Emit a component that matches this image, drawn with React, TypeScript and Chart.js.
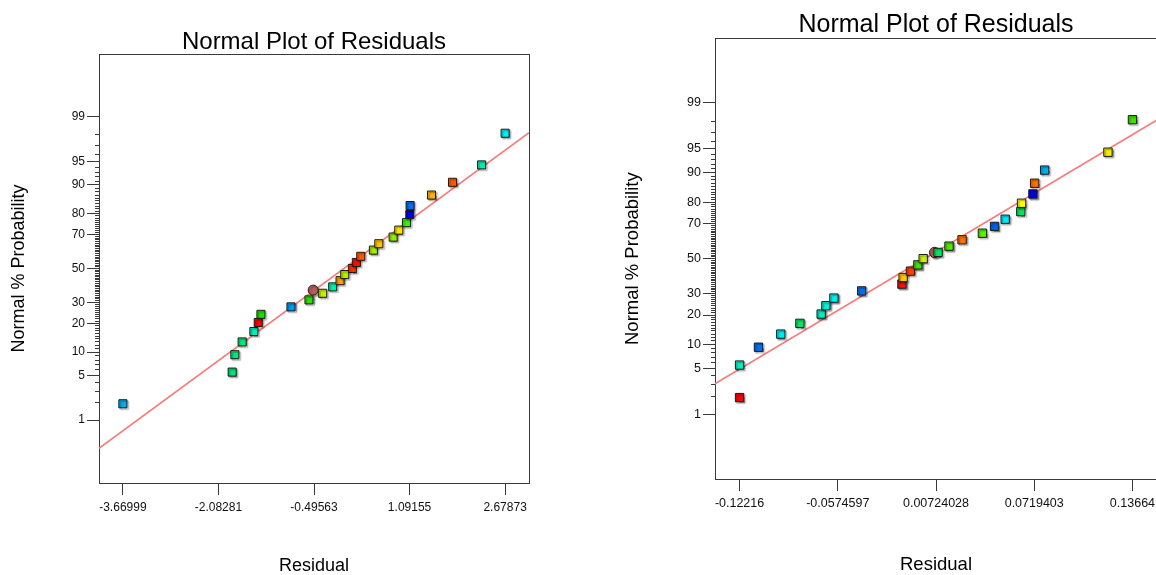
import { useEffect, useRef } from 'react';
import { Chart, registerables } from 'chart.js';

Chart.register(...registerables);

const MAIN_FONT = "'Liberation Sans', Arial, sans-serif";
const TICK_FONT = "'Liberation Sans Narrow', 'Liberation Sans', Arial, sans-serif";

// ---------- shared probability axis ----------
const yMajorPercents = [1, 5, 10, 20, 30, 50, 70, 80, 90, 95, 99];
const yMajorLabels = ['1', '5', '10', '20', '30', '50', '70', '80', '90', '95', '99'];
const yMinorPercents = Array.from({ length: 99 }, (_, i) => i + 1);
const zLimit = 3.2905; // 0.05% .. 99.95%

// ---------- left panel ----------
const leftTickValues = [-3.66999, -2.08281, -0.49563, 1.09155, 2.67873];
const leftTickLabels = ['-3.66999', '-2.08281', '-0.49563', '1.09155', '2.67873'];
const leftXMin = -4.0668;
const leftXMax = 3.0755;
const leftPercents = [1.9, 5.6, 9.3, 13.0, 16.7, 20.4, 24.1, 27.8, 31.5, 35.2, 38.9, 42.6, 46.3, 50.0, 53.7, 57.4, 61.1, 64.8, 68.5, 72.2, 75.9, 79.6, 83.3, 87.0, 90.7, 94.4, 98.1];
const leftResiduals = [-3.66999, -1.855, -1.81, -1.689, -1.494, -1.422, -1.377, -0.878, -0.579, -0.351, -0.185, -0.063, 0.015, 0.142, 0.208, 0.281, 0.491, 0.581, 0.819, 0.913, 1.04, 1.096, 1.10, 1.456, 1.805, 2.288, 2.67873];
const leftColors = ['#00AEEF', '#00E47A', '#00E880', '#00EC78', '#00F0BE', '#FF0000', '#18E000', '#0098F0', '#28E000', '#C8F000', '#00F0A8', '#FFA000', '#B4F000', '#F83000', '#FF1000', '#FF5A00', '#A0F000', '#FFC400', '#90F000', '#FFE400', '#40F000', '#0000F0', '#0070F0', '#FFB000', '#FF5A00', '#00F0B0', '#00EEF6'];
const leftCircleResidual = [-0.51];
const leftCirclePercent = [37.0];
const leftFitResidual = [-4.0668, 3.0755];
const leftFitPercent = [0.29, 98.14];

// ---------- right panel ----------
const rightTickValues = [-0.12216, -0.0574597, 0.00724028, 0.0719403, 0.13664];
const rightTickLabels = ['-0.12216', '-0.0574597', '0.00724028', '0.0719403', '0.13664'];
const rightXMin = -0.138335;
const rightXMax = 0.152815;
const rightPercents = [1.9, 5.6, 9.3, 13.0, 16.7, 20.4, 24.1, 27.8, 31.5, 35.2, 38.9, 42.6, 46.3, 50.0, 53.7, 57.4, 61.1, 64.8, 68.5, 72.2, 75.9, 79.6, 83.3, 87.0, 90.7, 94.4, 98.1];
const rightResiduals = [-0.12216, -0.12216, -0.1097, -0.095, -0.0824, -0.0684, -0.0653, -0.06, -0.0417, -0.0152, -0.0144, -0.0096, -0.0047, -0.0012, 0.0086, 0.0158, 0.0244, 0.0378, 0.0458, 0.0528, 0.0631, 0.0636, 0.0711, 0.0722, 0.0788, 0.1205, 0.13664];
const rightColors = ['#FF0000', '#00F0C0', '#0070F0', '#00E8F0', '#00E860', '#00F0C0', '#00F0D8', '#00F0F0', '#0070F0', '#FF1000', '#FFC800', '#FF4000', '#40E000', '#C8F000', '#00E860', '#50E800', '#FF7000', '#60F000', '#0060F0', '#00E8F8', '#00E860', '#FFFF00', '#0000E8', '#FF7000', '#00B0F0', '#F0F000', '#40E000'];
const rightCircleResidual = [0.0063];
const rightCirclePercent = [53.7];
const rightFitResidual = [-0.138335, 0.152815];
const rightFitPercent = [3.09, 98.08];

// inverse normal CDF (Acklam) for the probability axis
function probit(p: number): number {
  const a = [-3.969683028665376e1, 2.209460984245205e2, -2.759285104469687e2, 1.38357751867269e2, -3.066479806614716e1, 2.506628277459239];
  const b = [-5.447609879822406e1, 1.615858368580409e2, -1.556989798598866e2, 6.680131188771972e1, -1.328068155288572e1];
  const c = [-7.784894002430293e-3, -3.223964580411365e-1, -2.400758277161838, -2.549732539343734, 4.374664141464968, 2.938163982698783];
  const d = [7.784695709041462e-3, 3.224671290700398e-1, 2.445134137142996, 3.754408661907416];
  const pl = 0.02425;
  if (p < pl) {
    const q = Math.sqrt(-2 * Math.log(p));
    return (((((c[0] * q + c[1]) * q + c[2]) * q + c[3]) * q + c[4]) * q + c[5]) / ((((d[0] * q + d[1]) * q + d[2]) * q + d[3]) * q + 1);
  }
  if (p <= 1 - pl) {
    const q = p - 0.5;
    const r = q * q;
    return ((((((a[0] * r + a[1]) * r + a[2]) * r + a[3]) * r + a[4]) * r + a[5]) * q) / (((((b[0] * r + b[1]) * r + b[2]) * r + b[3]) * r + b[4]) * r + 1);
  }
  const q = Math.sqrt(-2 * Math.log(1 - p));
  return -(((((c[0] * q + c[1]) * q + c[2]) * q + c[3]) * q + c[4]) * q + c[5]) / ((((d[0] * q + d[1]) * q + d[2]) * q + d[3]) * q + 1);
}

type Panel = {
  residuals: number[]; percents: number[]; colors: string[];
  circleX: number[]; circleP: number[]; fitX: number[]; fitP: number[];
  tickValues: number[]; tickLabels: string[]; xMin: number; xMax: number;
  yAxisWidth: number; xAxisHeight: number; padRight: number;
  titleSize: number; titlePadTop: number; titlePadBottom: number;
  axisTitleSize: number; yTitlePad: number; xTitlePadBottom: number;
  tickSize: number; xTickPad: number; yTickPad: number; rectRadius: number; circleRadius: number;
};

const shadowPlugin = {
  id: 'markerShadow',
  beforeDatasetDraw(chart: any, args: any) {
    if (args.index > 1) return;
    const ctx = chart.ctx;
    ctx.save();
    ctx.shadowColor = 'rgba(0,0,0,0.4)';
    ctx.shadowOffsetX = 1.5;
    ctx.shadowOffsetY = 1.5;
    ctx.shadowBlur = 1.5;
  },
  afterDatasetDraw(chart: any, args: any) {
    if (args.index > 1) return;
    chart.ctx.restore();
  },
};

function buildConfig(p: Panel): any {
  const tickFont = { family: TICK_FONT, size: p.tickSize, weight: 'normal', lineHeight: 1.2 };
  const axisTitleFont = { family: MAIN_FONT, size: p.axisTitleSize, weight: 'normal', lineHeight: 1 };
  const axisColor = '#3a3a3a';
  return {
    type: 'scatter',
    data: {
      datasets: [
        {
          label: 'Residuals',
          data: p.residuals.map((x, i) => ({ x, y: probit(p.percents[i] / 100) })),
          pointStyle: 'rect',
          pointRadius: p.rectRadius,
          pointBackgroundColor: p.colors,
          pointBorderColor: '#1a1a1a',
          pointBorderWidth: 1,
          order: 0,
        },
        {
          label: 'Highlighted',
          data: p.circleX.map((x, i) => ({ x, y: probit(p.circleP[i] / 100) })),
          pointStyle: 'circle',
          pointRadius: p.circleRadius,
          pointBackgroundColor: '#B45C5C',
          pointBorderColor: '#3a1c1c',
          pointBorderWidth: 1,
          order: 1,
        },
        {
          label: 'Fit',
          data: p.fitX.map((x, i) => ({ x, y: probit(p.fitP[i] / 100) })),
          showLine: true,
          pointRadius: 0,
          borderColor: '#F77C7C',
          borderWidth: 1.6,
          order: 2,
        },
      ],
    },
    options: {
      responsive: false,
      maintainAspectRatio: false,
      animation: false,
      devicePixelRatio: 1,
      events: [],
      layout: { padding: { left: 0, right: p.padRight, top: 0, bottom: 0 } },
      plugins: {
        legend: { display: false },
        tooltip: { enabled: false },
        title: {
          display: true,
          fullSize: false,
          text: 'Normal Plot of Residuals',
          color: '#000000',
          font: { family: MAIN_FONT, size: p.titleSize, weight: 'normal', lineHeight: 1 },
          padding: { top: p.titlePadTop, bottom: p.titlePadBottom },
        },
      },
      scales: {
        x: {
          type: 'linear',
          position: 'bottom',
          min: p.xMin,
          max: p.xMax,
          afterBuildTicks: (s: any) => { s.ticks = p.tickValues.map((v) => ({ value: v })); },
          afterFit: (s: any) => { s.height = p.xAxisHeight; },
          ticks: {
            autoSkip: false, maxRotation: 0, minRotation: 0, padding: p.xTickPad, color: '#111111', font: tickFont,
            callback: (_v: any, i: number) => p.tickLabels[i],
          },
          grid: { display: true, drawOnChartArea: false, drawTicks: true, tickLength: 12, tickColor: axisColor, tickWidth: 1 },
          border: { display: true, color: axisColor, width: 1 },
          title: { display: true, text: 'Residual', color: '#000000', font: axisTitleFont, padding: { top: 0, bottom: p.xTitlePadBottom } },
        },
        y: {
          type: 'linear',
          position: 'left',
          weight: 1,
          min: -zLimit,
          max: zLimit,
          afterBuildTicks: (s: any) => { s.ticks = yMajorPercents.map((v) => ({ value: probit(v / 100) })); },
          afterFit: (s: any) => { s.width = p.yAxisWidth; },
          ticks: {
            autoSkip: false, padding: p.yTickPad, color: '#111111', font: tickFont,
            callback: (_v: any, i: number) => yMajorLabels[i],
          },
          grid: { display: true, drawOnChartArea: false, drawTicks: true, tickLength: 12, tickColor: axisColor, tickWidth: 1 },
          border: { display: true, color: axisColor, width: 1 },
          title: { display: true, text: 'Normal % Probability', color: '#000000', font: axisTitleFont, padding: { top: p.yTitlePad, bottom: 0 } },
        },
        yMinor: {
          type: 'linear',
          position: 'left',
          weight: 0,
          min: -zLimit,
          max: zLimit,
          afterBuildTicks: (s: any) => { s.ticks = yMinorPercents.map((v) => ({ value: probit(v / 100) })); },
          afterFit: (s: any) => { s.width = 0; },
          ticks: { display: false, autoSkip: false },
          grid: { display: true, drawOnChartArea: false, drawTicks: true, tickLength: 4, tickColor: axisColor, tickWidth: 1 },
          border: { display: false },
        },
        xTop: {
          type: 'linear',
          position: 'top',
          afterFit: (s: any) => { s.height = 0; },
          ticks: { display: false },
          grid: { display: false },
          border: { display: true, color: axisColor, width: 1 },
        },
        yRight: {
          type: 'linear',
          position: 'right',
          afterFit: (s: any) => { s.width = 0; },
          ticks: { display: false },
          grid: { display: false },
          border: { display: true, color: axisColor, width: 1 },
        },
      },
    },
    plugins: [shadowPlugin],
  };
}

const leftPanel: Panel = {
  residuals: leftResiduals, percents: leftPercents, colors: leftColors,
  circleX: leftCircleResidual, circleP: leftCirclePercent, fitX: leftFitResidual, fitP: leftFitPercent,
  tickValues: leftTickValues, tickLabels: leftTickLabels, xMin: leftXMin, xMax: leftXMax,
  yAxisWidth: 99, xAxisHeight: 92, padRight: 49,
  titleSize: 24, titlePadTop: 30, titlePadBottom: 0,
  axisTitleSize: 18, yTitlePad: 10, xTitlePadBottom: 0,
  tickSize: 12, xTickPad: 5, yTickPad: 2, rectRadius: 5.7, circleRadius: 5,
};

const rightPanel: Panel = {
  residuals: rightResiduals, percents: rightPercents, colors: rightColors,
  circleX: rightCircleResidual, circleP: rightCirclePercent, fitX: rightFitResidual, fitP: rightFitPercent,
  tickValues: rightTickValues, tickLabels: rightTickLabels, xMin: rightXMin, xMax: rightXMax,
  yAxisWidth: 115, xAxisHeight: 96, padRight: 23,
  titleSize: 25, titlePadTop: 12.5, titlePadBottom: 0.8,
  axisTitleSize: 18.5, yTitlePad: 24, xTitlePadBottom: 1,
  tickSize: 12.5, xTickPad: 5, yTickPad: 2, rectRadius: 5.9, circleRadius: 5.2,
};

export default function App() {
  const leftRef = useRef<HTMLCanvasElement | null>(null);
  const rightRef = useRef<HTMLCanvasElement | null>(null);

  useEffect(() => {
    const charts: Chart[] = [];
    if (leftRef.current) charts.push(new Chart(leftRef.current, buildConfig(leftPanel)));
    if (rightRef.current) charts.push(new Chart(rightRef.current, buildConfig(rightPanel)));
    return () => { charts.forEach((c) => c.destroy()); };
  }, []);

  return (
    <div style={{ position: 'fixed', left: 0, top: 0, width: 1156, height: 575, overflow: 'hidden', background: '#ffffff' }}>
      <canvas ref={leftRef} width={578} height={575} style={{ position: 'absolute', left: 0, top: 0, width: 578, height: 575 }} />
      <canvas ref={rightRef} width={580} height={575} style={{ position: 'absolute', left: 600, top: 0, width: 580, height: 575 }} />
    </div>
  );
}
